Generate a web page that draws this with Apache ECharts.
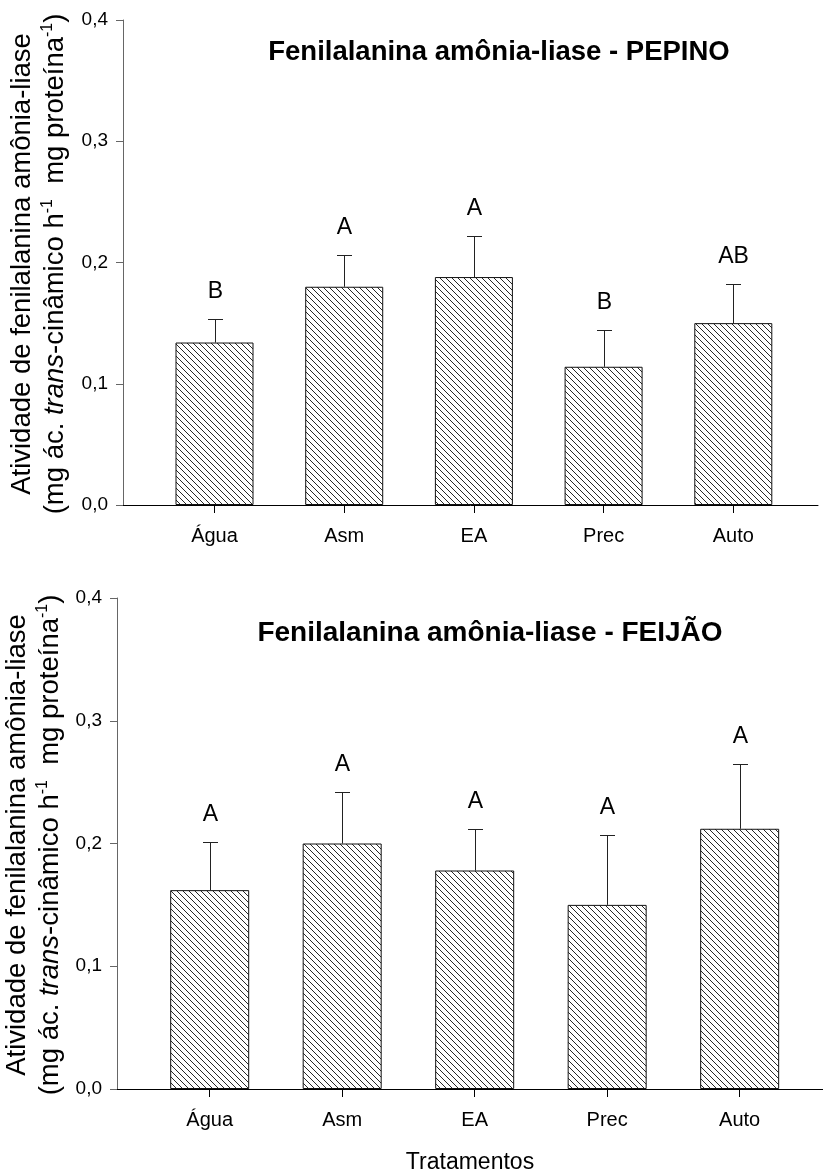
<!DOCTYPE html>
<html><head><meta charset="utf-8">
<script src="https://cdn.jsdelivr.net/npm/echarts@6/dist/echarts.min.js"></script>
<style>html,body{margin:0;padding:0;background:#fff}#c{width:823px;height:1175px}</style>
</head><body><div id="c"></div>
<script>
const categories = ['Água', 'Asm', 'EA', 'Prec', 'Auto'];
const yTickLabels = ['0,0', '0,1', '0,2', '0,3', '0,4'];
const pepinoMeans = [0.134, 0.180, 0.188, 0.114, 0.150];
const pepinoErr = [0.019, 0.026, 0.034, 0.030, 0.032];
const pepinoLetters = ['B', 'A', 'A', 'B', 'AB'];
const feijaoMeans = [0.162, 0.200, 0.178, 0.150, 0.212];
const feijaoErr = [0.039, 0.042, 0.034, 0.057, 0.053];
const feijaoLetters = ['A', 'A', 'A', 'A', 'A'];
const titlePepino = 'Fenilalanina amônia-liase - PEPINO';
const titleFeijao = 'Fenilalanina amônia-liase - FEIJÃO';
const yTitle1 = 'Atividade de fenilalanina amônia-liase';
const yTitle2 = '(mg ác. {it|trans}-cinâmico h{sup|-1}  mg proteína{sup|-1})';
const xTitle = 'Tratamentos';

const FONT = 'Arial, "Liberation Sans", sans-serif';

function hatch() {
  const n = 6;
  const c = document.createElement('canvas');
  c.width = n; c.height = n;
  const ctx = c.getContext('2d');
  const img = ctx.createImageData(n, n);
  for (let y = 0; y < n; y++) {
    for (let x = 0; x < n; x++) {
      const k = (y * n + x) * 4;
      const on = ((x - y + n) % n) === 0;
      const v = on ? 40 : 255;
      img.data[k] = v; img.data[k + 1] = v; img.data[k + 2] = v; img.data[k + 3] = 255;
    }
  }
  ctx.putImageData(img, 0, 0);
  return c;
}
const pattern = { image: hatch(), repeat: 'repeat' };

function errRender(letters) {
  return function (params, api) {
    const i = api.value(0), v = api.value(1), e = api.value(2);
    const p0 = api.coord([i, v]);
    const p1 = api.coord([i, v + e]);
    const x = Math.round(p0[0]) + 0.5;
    const yc = Math.round(p1[1]) + 0.5;
    const st = { stroke: '#222', lineWidth: 1 };
    return {
      type: 'group', children: [
        { type: 'line', shape: { x1: x, y1: p0[1], x2: x, y2: yc }, style: st },
        { type: 'line', shape: { x1: x - 7.5, y1: yc, x2: x + 7.5, y2: yc }, style: st },
        { type: 'text', style: { text: letters[params.dataIndex], x: x, y: yc - 28, align: 'center', verticalAlign: 'middle', fontSize: 23, fontFamily: FONT, fill: '#000' } }
      ]
    };
  };
}

function xAxisCfg(grid, min, max, withName) {
  const a = {
    type: 'value', gridIndex: grid, min: min, max: max,
    axisLine: { show: true, onZero: false, lineStyle: { color: '#000', width: 1 } },
    axisTick: { show: true, inside: false, length: 8, lineStyle: { color: '#000' }, customValues: [0, 1, 2, 3, 4] },
    axisLabel: { show: true, customValues: [0, 1, 2, 3, 4], formatter: v => categories[Math.round(v)], margin: 21, fontSize: 20, fontFamily: FONT, color: '#000' },
    splitLine: { show: false }
  };
  if (withName) {
    a.name = xTitle; a.nameLocation = 'middle'; a.nameGap = 62;
    a.nameTextStyle = { fontSize: 23, fontFamily: FONT, color: '#000' };
  }
  return a;
}
function yAxisCfg(grid) {
  return {
    type: 'value', gridIndex: grid, min: 0, max: 0.4, interval: 0.1,
    axisLine: { show: true, onZero: false, lineStyle: { color: '#666', width: 1 } },
    axisTick: { show: true, inside: false, length: 7, lineStyle: { color: '#666' } },
    axisLabel: { formatter: (v, idx) => yTickLabels[idx], margin: 15, fontSize: 19, fontFamily: FONT, color: '#000' },
    splitLine: { show: false }
  };
}

const richY = {
  it: { fontStyle: 'italic', fontSize: 27.5, fontFamily: FONT, fill: '#000' },
  sup: { fontSize: 16, fontFamily: FONT, padding: [0, 0, 14, 0] }
};
function yTitleGraphics(cx1, cx2, cy) {
  return [
    { type: 'text', x: cx1, y: cy, rotation: Math.PI / 2, style: { text: yTitle1, align: 'center', verticalAlign: 'middle', fontSize: 27.5, fontFamily: FONT, fill: '#000' } },
    { type: 'text', x: cx2, y: cy, rotation: Math.PI / 2, style: { text: yTitle2, rich: richY, align: 'center', verticalAlign: 'middle', fontSize: 27.5, fontFamily: FONT, fill: '#000' } }
  ];
}

const chart = echarts.init(document.getElementById('c'), null, { renderer: 'canvas' });
chart.setOption({
  animation: false,
  backgroundColor: '#fff',
  grid: [
    { left: 123, top: 20, width: 695, height: 485 },
    { left: 117, top: 598, width: 706, height: 492 }
  ],
  xAxis: [xAxisCfg(0, -0.7055, 4.653, false), xAxisCfg(1, -0.6996, 4.629, true)],
  yAxis: [yAxisCfg(0), yAxisCfg(1)],
  series: [
    { type: 'bar', xAxisIndex: 0, yAxisIndex: 0, barWidth: 78, data: pepinoMeans.map((v, i) => [i, v]),
      itemStyle: { color: pattern, borderColor: '#111', borderWidth: 1 } },
    { type: 'custom', xAxisIndex: 0, yAxisIndex: 0, data: pepinoMeans.map((v, i) => [i, v, pepinoErr[i]]), renderItem: errRender(pepinoLetters), clip: false },
    { type: 'bar', xAxisIndex: 1, yAxisIndex: 1, barWidth: 79, data: feijaoMeans.map((v, i) => [i, v]),
      itemStyle: { color: pattern, borderColor: '#111', borderWidth: 1 } },
    { type: 'custom', xAxisIndex: 1, yAxisIndex: 1, data: feijaoMeans.map((v, i) => [i, v, feijaoErr[i]]), renderItem: errRender(feijaoLetters), clip: false }
  ],
  graphic: [
    { type: 'text', x: 499, y: 52, style: { text: titlePepino, align: 'center', verticalAlign: 'middle', fontSize: 27.5, fontWeight: 'bold', fontFamily: FONT, fill: '#000' } },
    { type: 'text', x: 490, y: 633, style: { text: titleFeijao, align: 'center', verticalAlign: 'middle', fontSize: 28, fontWeight: 'bold', fontFamily: FONT, fill: '#000' } }
  ].concat(yTitleGraphics(22, 55, 264), yTitleGraphics(17, 50, 845))
});
</script></body></html>
